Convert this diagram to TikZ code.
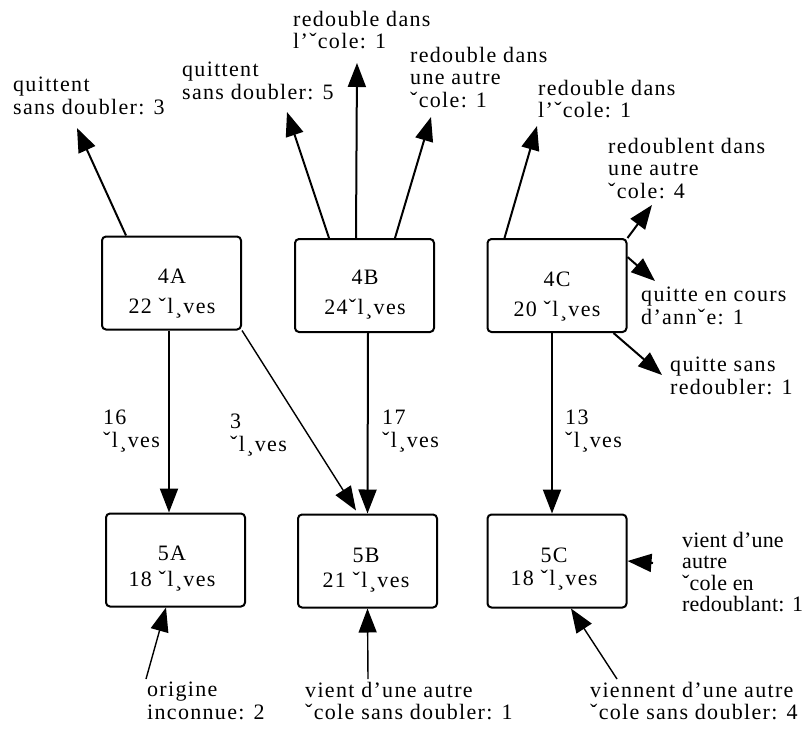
\documentclass[tikz,border=0pt]{standalone}
\usepackage{fontspec}
\setmainfont{Liberation Serif}[LetterSpace=6]
\usetikzlibrary{arrows.meta,positioning}
\tikzset{
    >={Triangle[length=24pt,width=18pt]},
    box/.style ={rectangle, draw, rounded corners=4pt, line width=2pt, minimum width=139pt, minimum height=93pt, inner sep=0pt},
    count/.style = {align=center, inner sep=0pt, font=\fontsize{22}{30}\selectfont},
    lbl/.style = {anchor=north west, align=left, inner sep=0pt, font=\fontsize{22}{22.5}\selectfont},
    flow/.style={->, line width=2pt},
    thinflow/.style={->, line width=1.4pt},
}
\begin{document}
\begin{tikzpicture}[x=1pt,y=-1pt]
\useasboundingbox (0,0) rectangle (807,756);

    % classes
    \node[box] (b4A) at (171.5,283) {};
    \node[box] (b4B) at (364.5,285.5) {};
    \node[box] (b4C) at (557,285.5) {};
    \node[box] (b5A) at (175.5,560) {};
    \node[box] (b5B) at (367.5,561) {};
    \node[box] (b5C) at (557,561) {};
    \node[count] (n4A) at (172,294) {4A\\22 ˇl¸ves};
    \node[count] (n4B) at (365,295) {4B\\24ˇl¸ves};
    \node[count] (n4C) at (557,297) {4C\\20 ˇl¸ves};
    \node[count, font=\fontsize{22}{26}\selectfont] (n5A) at (172,569) {5A\\18 ˇl¸ves};
    \node[count, font=\fontsize{22}{25}\selectfont] (n5B) at (366,570) {5B\\21 ˇl¸ves};
    \node[count, font=\fontsize{22}{23}\selectfont] (n5C) at (554,569) {5C\\18 ˇl¸ves};

    % labels
    \node[lbl] (lq3) at (13,77) {quittent\\sans doubler: 3};
    \node[lbl] (lq5) at (182,62) {quittent\\sans doubler: 5};
    \node[lbl] (lrd1) at (293,11) {redouble dans\\l'ˇcole: 1};
    \node[lbl] (lrd2) at (410,47) {redouble dans\\une autre\\ˇcole: 1};
    \node[lbl] (lrd3) at (538,80) {redouble dans\\l'ˇcole: 1};
    \node[lbl] (lrd4) at (608,138) {redoublent dans\\une autre\\ˇcole: 4};
    \node[lbl] (lqc) at (641,287) {quitte en cours\\d'annˇe: 1};
    \node[lbl] (lqs) at (670,357) {quitte sans\\redoubler: 1};
    \node[lbl] (l16) at (103,410) {16\\ˇl¸ves};
    \node[lbl] (l3) at (230,414) {3\\ˇl¸ves};
    \node[lbl] (l17) at (382,410) {17\\ˇl¸ves};
    \node[lbl] (l13) at (565,410) {13\\ˇl¸ves};
    \node[lbl] (lorig) at (147,682) {origine\\inconnue: 2};
    \node[lbl] (lv1) at (305,682) {vient d'une autre\\ˇcole sans doubler: 1};
    \node[lbl] (lv4) at (590,682) {viennent d'une autre\\ˇcole sans doubler: 4};
    \node[lbl, font=\fontsize{22}{21.5}\selectfont\addfontfeatures{LetterSpace=1}] (lvr) at (682,532) {vient d'une\\autre\\ˇcole en\\redoublant: 1};

    % arrow tips at the labels
    \coordinate (tq3) at (77,128);
    \coordinate (tq5) at (287,112);
    \coordinate (trd1) at (357,63);
    \coordinate (trd2) at (431,117);
    \coordinate (trd3) at (537,126);
    \coordinate (trd4) at (652,205);
    \coordinate (tqc) at (655,281);
    \coordinate (tqs) at (662,375);

    % leaving
    \draw[flow] ([xshift=25]b4A.north west) -- (tq3);
    \draw[flow] ([xshift=35]b4B.north west) -- (tq5);
    \draw[flow] ([xshift=62]b4B.north west) -- (trd1);
    \draw[flow] ([xshift=101]b4B.north west) -- (trd2);
    \draw[flow] ([xshift=18]b4C.north west) -- (trd3);
    \draw[flow] (b4C.north east) -- (trd4);
    \draw[flow] ([yshift=-19]b4C.north east) -- (tqc);
    \draw[flow] ([xshift=-14]b4C.south east) -- (tqs);

    % 4 to 5
    \draw[flow] ([xshift=-2.5]b4A.south) -- ([xshift=-6.5]b5A.north);
    \draw[thinflow] (b4A.south east) -- ([xshift=59,yshift=3]b5B.north west);
    \draw[flow] ([xshift=3.5]b4B.south) -- (b5B.north);
    \draw[flow] ([xshift=-5]b4C.south) -- ([xshift=-5]b5C.north);

    % coming in
    \draw[thinflow] ([xshift=-1,yshift=3]lorig.north west) -- ([xshift=-9.5]b5A.south);
    \draw[thinflow] ([xshift=63,yshift=3]lv1.north west) -- (b5B.south);
    \draw[thinflow] ([xshift=27,yshift=3]lv4.north west) -- ([xshift=14]b5C.south);
    \draw[flow] ([xshift=-29,yshift=-31]lvr.north west) -- (b5C.east);

\end{tikzpicture}
\end{document}
